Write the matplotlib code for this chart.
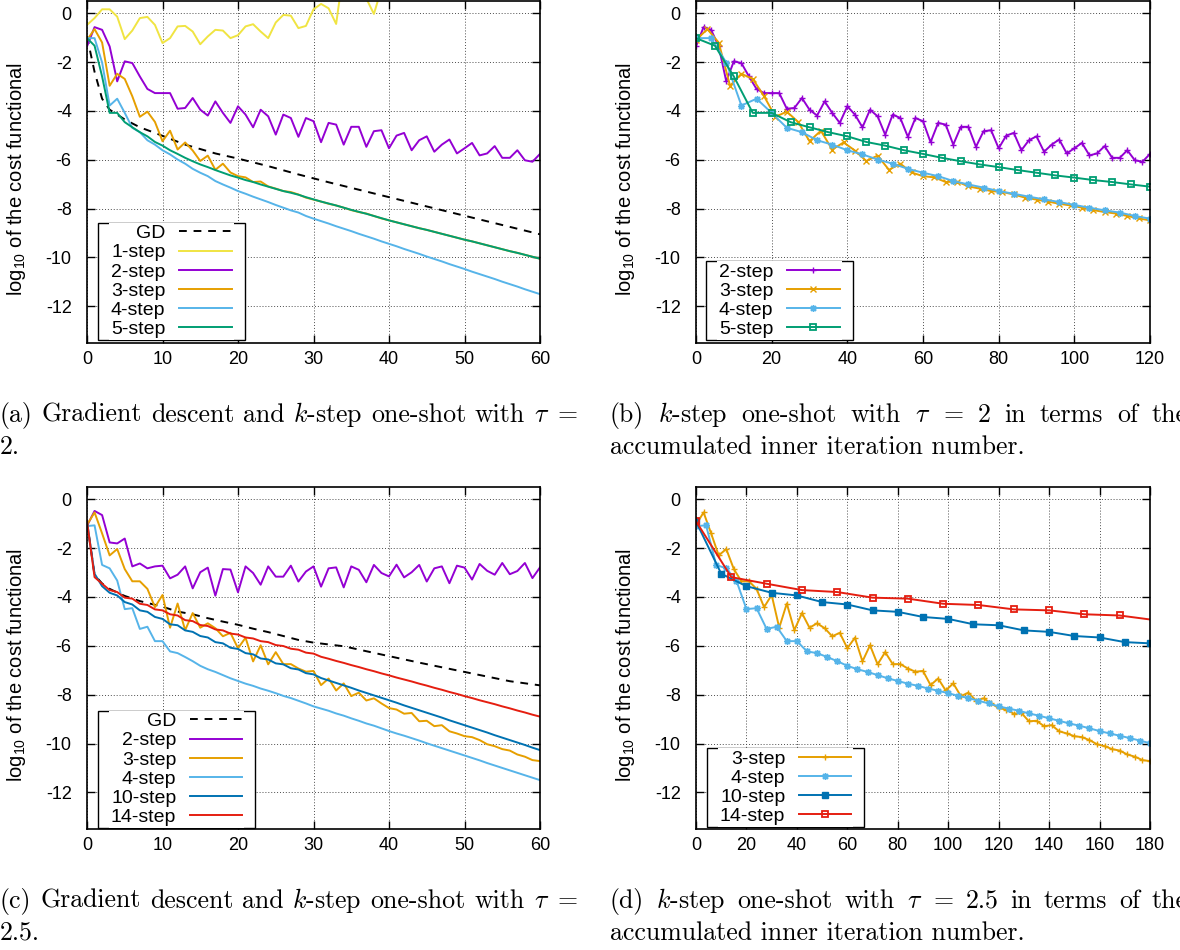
import numpy as np
import matplotlib
matplotlib.use("Agg")
import matplotlib.pyplot as plt
from matplotlib.patches import Rectangle

plt.rcParams['font.family'] = ['Liberation Sans', 'DejaVu Sans']
plt.rcParams['axes.unicode_minus'] = False
plt.rcParams['mathtext.fontset'] = 'custom'
plt.rcParams['mathtext.rm'] = 'Liberation Sans'
plt.rcParams['mathtext.it'] = 'Liberation Sans:italic'

# ------------------------------------------------------------------ data
# tau = 2 (panels a, b); value per outer iteration 0..60 (log10 of cost)
gd2_iter = [0, 1, 2, 3, 4, 5, 7, 9, 13, 17, 20, 24, 28, 32, 40, 50, 60]
gd2_val = [-0.95, -2.4, -3.5, -3.95, -4.15, -4.35, -4.67, -4.9, -5.38, -5.74,
           -5.95, -6.26, -6.6, -6.92, -7.53, -8.29, -9.05]

step1_tau2 = [-0.48, -0.2, 0.16, 0.16, -0.14, -1.06, -0.71, -0.2, -0.15, -0.48,
              -1.22, -1.02, -0.54, -0.52, -0.75, -1.27, -0.95, -0.68, -0.71, -1.02,
              -0.9, -0.54, -0.45, -0.75, -1.02, -0.38, -0.07, -0.1, -0.61, -0.52,
              0.16, 0.38, 0.2, -0.44, 1.8, 2.0, 1.5, 0.6, -0.03, 1.0]

step2_tau2 = [-1.36, -0.57, -0.68, -1.36, -2.79, -1.97, -2.04, -2.59, -3.10, -3.27,
              -3.27, -3.27, -3.91, -3.88, -3.47, -3.95, -4.19, -3.61, -4.08, -4.49,
              -3.81, -4.15, -4.67, -3.95, -4.22, -4.97, -4.15, -4.29, -5.06, -4.29,
              -4.42, -5.28, -4.49, -4.56, -5.38, -4.65, -4.65, -5.47, -4.83, -4.79,
              -5.53, -5.01, -4.90, -5.61, -5.20, -5.04, -5.67, -5.38, -5.17, -5.74,
              -5.53, -5.31, -5.82, -5.74, -5.44, -5.92, -5.92, -5.61, -6.02, -6.08,
              -5.76]

step3_tau2 = [-1.10, -0.65, -1.20, -2.97, -2.48, -2.69, -3.40, -4.24, -4.03, -4.45,
              -5.24, -4.81, -5.58, -5.29, -5.62, -6.05, -5.83, -6.41, -6.16, -6.52,
              -6.67, -6.72, -6.91, -6.89, -7.09, -7.18, -7.28, -7.32, -7.42, -7.55,
              -7.63, -7.71, -7.80, -7.87, -7.96, -8.06, -8.14, -8.20, -8.30, -8.40,
              -8.48, -8.56, -8.64, -8.72, -8.80, -8.87, -8.95, -9.03, -9.11, -9.19,
              -9.27, -9.34, -9.42, -9.50, -9.58, -9.66, -9.74, -9.81, -9.89, -9.97,
              -10.05]

step4_tau2 = [-1.02, -1.02, -2.02, -3.78, -3.50, -4.08, -4.69, -4.87, -5.20, -5.38,
              -5.61, -5.78, -5.99, -6.16, -6.37, -6.53, -6.67, -6.87, -7.01, -7.14,
              -7.28, -7.39, -7.51, -7.62, -7.73, -7.85, -7.96, -8.07, -8.16, -8.30,
              -8.41, -8.51, -8.61, -8.72, -8.82, -8.92, -9.03, -9.13, -9.23, -9.34,
              -9.44, -9.54, -9.65, -9.75, -9.85, -9.96, -10.06, -10.16, -10.27, -10.37,
              -10.47, -10.58, -10.68, -10.78, -10.88, -10.99, -11.09, -11.19, -11.30, -11.40,
              -11.50]

step5_tau2 = [-1.02, -1.33, -2.59, -4.08, -4.08, -4.46, -4.67, -4.87, -5.04, -5.27,
              -5.42, -5.61, -5.76, -5.92, -6.06, -6.19, -6.30, -6.42, -6.53, -6.64,
              -6.73, -6.83, -6.91, -7.01, -7.10, -7.19, -7.28, -7.35, -7.43, -7.53,
              -7.62, -7.71, -7.79, -7.87, -7.96, -8.05, -8.13, -8.21, -8.30, -8.39,
              -8.48, -8.56, -8.64, -8.72, -8.80, -8.87, -8.95, -9.03, -9.11, -9.19,
              -9.27, -9.34, -9.42, -9.50, -9.58, -9.66, -9.74, -9.81, -9.89, -9.97,
              -10.05]

# tau = 2.5 (panels c, d)
gd25_iter = [0, 1, 2, 3, 4, 5, 7, 10, 12, 14, 16, 18, 20, 22, 24, 26, 28, 30,
             34, 38, 44, 50, 56, 60]
gd25_val = [-0.95, -3.1, -3.45, -3.67, -3.82, -3.96, -4.17, -4.4, -4.6, -4.71,
            -4.87, -5.01, -5.14, -5.3, -5.44, -5.6, -5.76, -5.87, -6.02, -6.29,
            -6.69, -7.07, -7.45, -7.62]

step2_tau25 = [-1.09, -0.48, -0.65, -1.77, -1.81, -1.61, -2.75, -2.63, -2.83, -2.75,
               -2.72, -3.24, -3.09, -2.75, -3.65, -2.99, -2.80, -3.95, -2.86, -2.88,
               -3.81, -2.75, -3.02, -3.50, -2.75, -3.17, -3.17, -2.72, -3.37, -2.96,
               -2.75, -3.58, -2.83, -2.79, -3.61, -2.75, -2.89, -3.40, -2.69, -3.02,
               -3.16, -2.68, -3.20, -2.99, -2.69, -3.37, -2.83, -2.75, -3.44, -2.72,
               -2.80, -3.29, -2.65, -2.93, -3.09, -2.61, -3.07, -2.94, -2.61, -3.23,
               -2.79]

step3_tau25 = [-1.05, -0.54, -1.40, -2.30, -2.04, -2.86, -3.36, -3.36, -3.67, -4.42,
               -3.92, -5.26, -4.27, -5.36, -4.66, -5.26, -5.08, -5.28, -5.61, -5.47,
               -6.10, -5.67, -6.64, -5.98, -6.76, -6.26, -6.75, -6.75, -6.93, -7.06,
               -7.03, -7.61, -7.34, -7.83, -7.54, -8.06, -7.92, -8.24, -8.15, -8.36,
               -8.55, -8.61, -8.78, -8.75, -9.09, -9.07, -9.29, -9.25, -9.50, -9.59,
               -9.70, -9.74, -9.86, -10.03, -10.11, -10.23, -10.29, -10.45, -10.54, -10.68,
               -10.72]

step4_tau25 = [-1.10, -1.07, -2.69, -2.83, -3.33, -4.50, -4.46, -5.31, -5.22, -5.81,
               -5.81, -6.23, -6.30, -6.46, -6.63, -6.82, -6.96, -7.07, -7.20, -7.33,
               -7.44, -7.55, -7.64, -7.75, -7.84, -7.94, -8.05, -8.14, -8.25, -8.36,
               -8.48, -8.57, -8.66, -8.77, -8.86, -8.97, -9.07, -9.18, -9.27, -9.38,
               -9.49, -9.59, -9.68, -9.78, -9.88, -9.99, -10.09, -10.19, -10.29, -10.39,
               -10.49, -10.59, -10.69, -10.80, -10.90, -11.00, -11.10, -11.20, -11.30, -11.40,
               -11.50]

step10_tau25 = [-0.91, -3.05, -3.56, -3.83, -3.94, -4.21, -4.31, -4.55, -4.61, -4.82,
                -4.90, -5.12, -5.16, -5.37, -5.43, -5.60, -5.66, -5.85, -5.90, -6.08,
                -6.13, -6.30, -6.35, -6.52, -6.56, -6.72, -6.76, -6.92, -6.97, -7.12,
                -7.17, -7.32, -7.42, -7.52, -7.62, -7.72, -7.83, -7.93, -8.03, -8.13,
                -8.23, -8.33, -8.44, -8.54, -8.64, -8.74, -8.84, -8.94, -9.05, -9.15,
                -9.25, -9.35, -9.45, -9.55, -9.66, -9.76, -9.86, -9.96, -10.06, -10.17,
                -10.27]

step14_tau25 = [-0.90, -3.19, -3.46, -3.72, -3.80, -4.03, -4.07, -4.28, -4.33, -4.51,
                -4.55, -4.71, -4.76, -4.95, -4.99, -5.15, -5.19, -5.33, -5.37, -5.50,
                -5.54, -5.66, -5.70, -5.81, -5.85, -5.97, -6.01, -6.12, -6.16, -6.28,
                -6.32, -6.45, -6.53, -6.62, -6.70, -6.79, -6.87, -6.96, -7.04, -7.13,
                -7.21, -7.30, -7.38, -7.46, -7.55, -7.63, -7.72, -7.80, -7.89, -7.97,
                -8.06, -8.14, -8.23, -8.31, -8.39, -8.48, -8.56, -8.65, -8.73, -8.82,
                -8.90]

y_ticks = [-12, -10, -8, -6, -4, -2, 0]
xt_outer = [0, 10, 20, 30, 40, 50, 60]
xt_inner_b = [0, 20, 40, 60, 80, 100, 120]
xt_inner_d = [0, 20, 40, 60, 80, 100, 120, 140, 160, 180]

captions = {
    'a': (['(a)', 'Gradient', 'descent', 'and', '$k$-step', 'one-shot', 'with', r'$\tau$', '='], '2.'),
    'b': (['(b)', '$k$-step', 'one-shot', 'with', r'$\tau$', '=', '2', 'in', 'terms', 'of', 'the'],
          'accumulated inner iteration number.'),
    'c': (['(c)', 'Gradient', 'descent', 'and', '$k$-step', 'one-shot', 'with', r'$\tau$', '='], '2.5.'),
    'd': (['(d)', '$k$-step', 'one-shot', 'with', r'$\tau$', '=', '2.5', 'in', 'terms', 'of', 'the'],
          'accumulated inner iteration number.'),
}

C_YEL = '#f0e442'
C_PUR = '#9400d3'
C_ORA = '#e69f00'
C_LBL = '#56b4e9'
C_GRN = '#009e73'
C_DBL = '#0072b2'
C_RED = '#e51e10'
LW = 1.4
ASTER = (8, 2, 0)

W, H = 1180, 950
fig = plt.figure(figsize=(W / 100, H / 100), dpi=100)


def ax_at(l, t, r, b):
    return fig.add_axes([l / W, 1 - b / H, (r - l) / W, (b - t) / H])


def style(ax, xticks):
    ax.set_xlim(xticks[0], xticks[-1])
    ax.set_ylim(-13.5, 0.5)
    ax.set_xticks(xticks)
    ax.set_yticks(y_ticks)
    ax.grid(True, color='0.3', linestyle=(0, (1, 2)), linewidth=0.7)
    ax.tick_params(which='both', direction='in', length=6, width=1, top=True,
                   right=True, labelsize=13)
    ax.tick_params(axis='y', pad=11)
    ax.tick_params(axis='x', pad=6)
    for s in ax.spines.values():
        s.set_linewidth(1.2)
    ax.set_ylabel('log$_{10}$ of the cost functional', fontsize=14.5)
    ax.yaxis.set_label_coords(-0.13, 0.48)


axa = ax_at(87, 1, 540, 343)
axb = ax_at(696, 1, 1150, 343)
axc = ax_at(87, 487, 540, 829)
axd = ax_at(696, 487, 1150, 829)

n1 = np.arange(len(step1_tau2))
n = np.arange(61)

# (a)
axa.plot(gd2_iter, gd2_val, color='black', ls=(0, (4, 3.5)), lw=LW, label='GD')
axa.plot(n1, step1_tau2, color=C_YEL, lw=LW, label='1-step')
axa.plot(n, step2_tau2, color=C_PUR, lw=LW, label='2-step')
axa.plot(n, step3_tau2, color=C_ORA, lw=LW, label='3-step')
axa.plot(n, step4_tau2, color=C_LBL, lw=LW, label='4-step')
axa.plot(n, step5_tau2, color=C_GRN, lw=LW, label='5-step')
style(axa, xt_outer)

# (b) accumulated inner iterations = k * outer iteration
axb.plot(2 * n, step2_tau2, color=C_PUR, lw=LW, marker='+', ms=5, mew=1, label='2-step')
axb.plot(3 * n, step3_tau2, color=C_ORA, lw=LW, marker='x', ms=4, mew=1, label='3-step')
axb.plot(4 * n, step4_tau2, color=C_LBL, lw=LW, marker=ASTER, ms=5, mew=1, label='4-step')
axb.plot(5 * n, step5_tau2, color=C_GRN, lw=LW, marker='s', ms=4.5, mfc='none', mew=1.3,
         label='5-step')
style(axb, xt_inner_b)

# (c)
axc.plot(gd25_iter, gd25_val, color='black', ls=(0, (4, 3.5)), lw=LW, label='GD')
axc.plot(n, step2_tau25, color=C_PUR, lw=LW, label='2-step')
axc.plot(n, step3_tau25, color=C_ORA, lw=LW, label='3-step')
axc.plot(n, step4_tau25, color=C_LBL, lw=LW, label='4-step')
axc.plot(n, step10_tau25, color=C_DBL, lw=LW, label='10-step')
axc.plot(n, step14_tau25, color=C_RED, lw=LW, label='14-step')
style(axc, xt_outer)

# (d)
axd.plot(3 * n, step3_tau25, color=C_ORA, lw=LW, marker='+', ms=5, mew=1, label='3-step')
axd.plot(4 * n, step4_tau25, color=C_LBL, lw=LW, marker=ASTER, ms=5, mew=1, label='4-step')
axd.plot(10 * n, step10_tau25, color=C_DBL, lw=LW, marker='s', ms=4, label='10-step')
axd.plot(14 * n, step14_tau25, color=C_RED, lw=LW, marker='s', ms=4.5, mfc='none', mew=1.3,
         label='14-step')
style(axd, xt_inner_d)

DX = 11
legs = []
for ax, box_left, box_bottom, ax_left, ax_bottom in [
        (axa, 98, 340, 87, 343), (axb, 706, 340, 696, 343),
        (axc, 98, 828, 87, 829), (axd, 707, 827, 696, 829)]:
    axw = ax.get_position().width * W
    axh = ax.get_position().height * H
    leg = ax.legend(loc='lower left',
                    bbox_to_anchor=((box_left + DX - ax_left) / axw, (ax_bottom - box_bottom) / axh),
                    borderaxespad=0, markerfirst=False, fontsize=14, handlelength=2.7,
                    handletextpad=0.7, labelspacing=0.08, borderpad=0.1, frameon=True,
                    fancybox=False, edgecolor='none', facecolor='white', framealpha=1,
                    numpoints=1)
    legs.append((ax, leg))

# captions (justified first line, like LaTeX)
renderer = fig.canvas.get_renderer()
CAP_SIZE = 18.6


def caption(words, second, x0, x1, ybase, yline2):
    ts = [fig.text(x0 / W, 1 - ybase / H, w, fontsize=CAP_SIZE, family='cmr10',
                   math_fontfamily='cm', va='baseline', ha='left') for w in words]
    widths = [t.get_window_extent(renderer).width for t in ts]
    gap = ((x1 - x0) - sum(widths)) / (len(words) - 1)
    x = x0
    for t, wd in zip(ts, widths):
        t.set_x(x / W)
        x += wd + gap
    fig.text(x0 / W, 1 - yline2 / H, second, fontsize=CAP_SIZE, family='cmr10',
             math_fontfamily='cm', va='baseline', ha='left')


caption(*captions['a'], 0, 578, 422, 453.5)
caption(*captions['b'], 610, 1188, 422, 453.5)
caption(*captions['c'], 0, 578, 908, 939.5)
caption(*captions['d'], 610, 1188, 908, 939.5)

fig.canvas.draw()
renderer = fig.canvas.get_renderer()
for ax, leg in legs:
    bb = leg.get_window_extent(renderer)
    rect = Rectangle((bb.x0 - DX, bb.y0), bb.width + 2 * DX, bb.height, transform=None,
                     facecolor='white', edgecolor='black', linewidth=1.0, zorder=4.9,
                     clip_on=False)
    ax.add_artist(rect)
    rect.set_transform(matplotlib.transforms.IdentityTransform())

fig.savefig('out.png', dpi=100)
